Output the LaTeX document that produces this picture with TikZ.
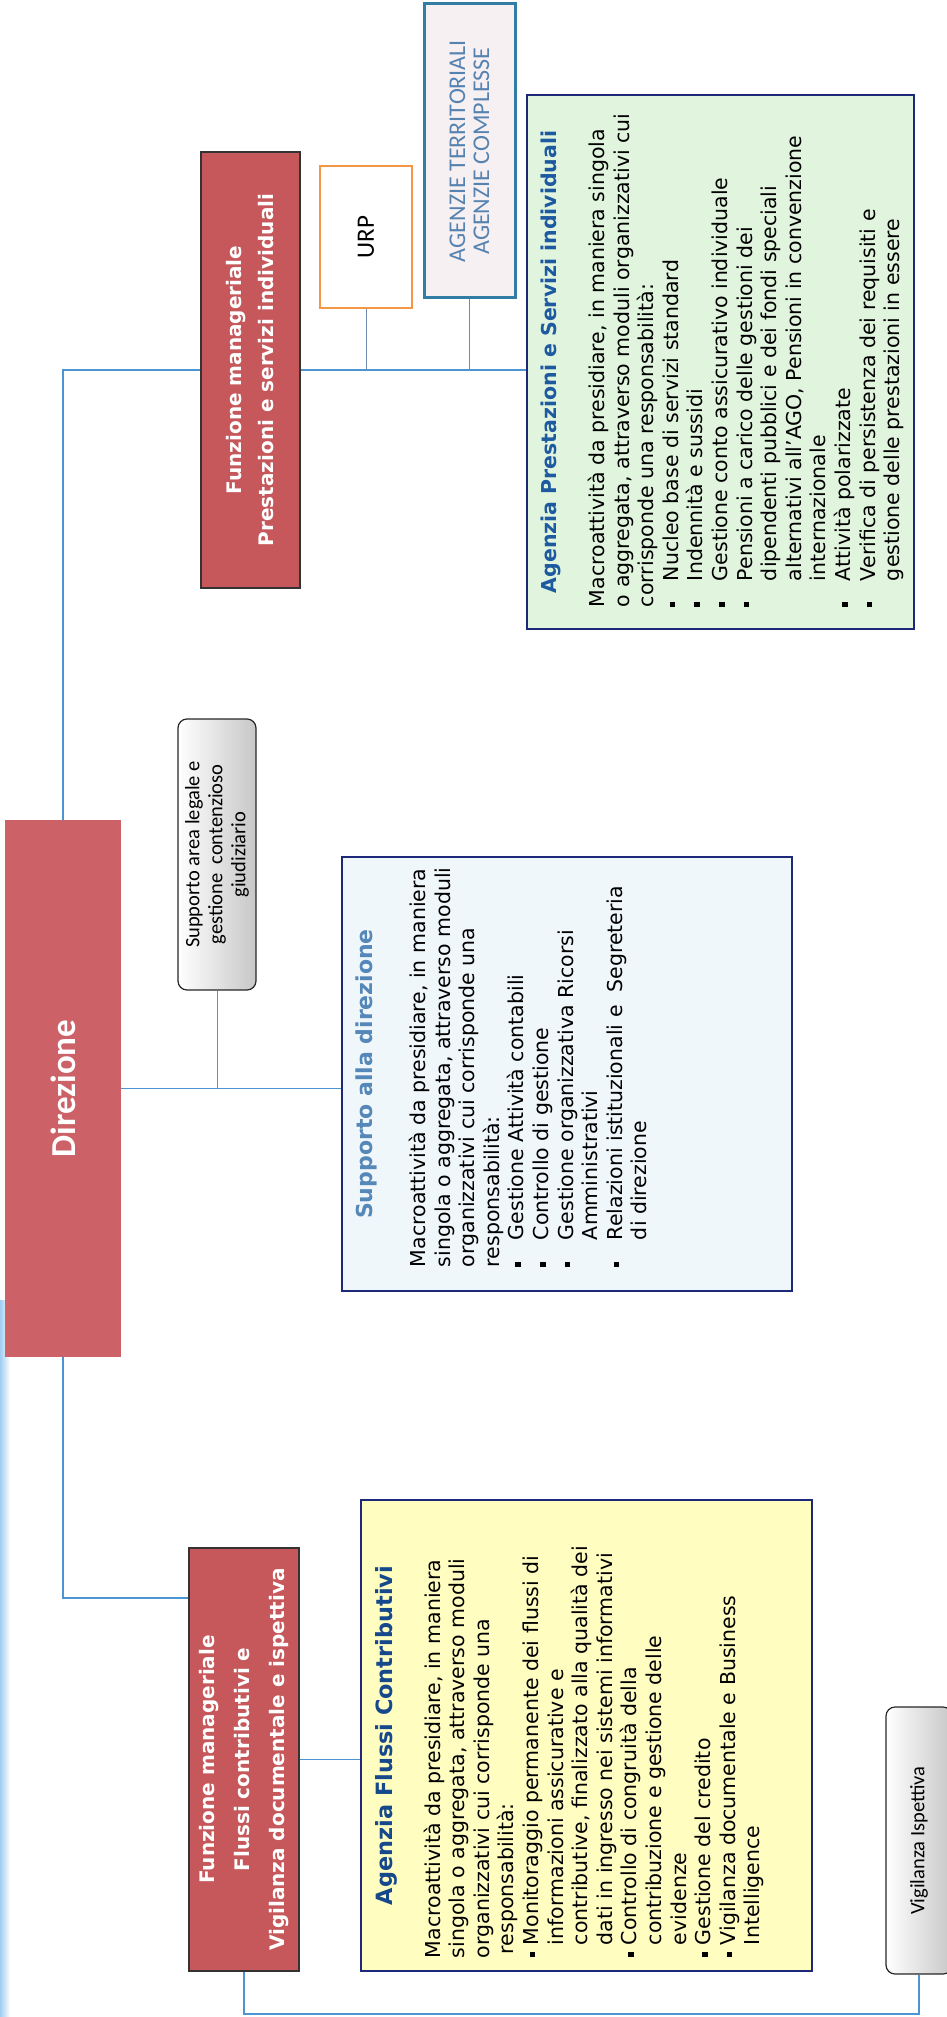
\documentclass[tikz,border=0pt]{standalone}
\usepackage{fontspec}
\setmainfont{DejaVu Sans}
\newfontfamily\calibf{Carlito}
\usetikzlibrary{calc}
\definecolor{redf}{RGB}{198,88,92}
\definecolor{redf2}{RGB}{204,98,103}
\definecolor{navyb}{RGB}{30,40,120}
\definecolor{greenf}{RGB}{225,245,222}
\definecolor{yellowf}{RGB}{255,253,192}
\definecolor{bluef}{RGB}{240,247,250}
\definecolor{headA}{RGB}{30,90,160}
\definecolor{headF}{RGB}{22,72,140}
\definecolor{headB}{RGB}{85,135,185}
\definecolor{linec}{RGB}{75,150,210}
\definecolor{linec2}{RGB}{110,140,180}
\definecolor{orangeb}{RGB}{245,150,70}
\definecolor{tealb}{RGB}{50,125,165}
\definecolor{pinkf}{RGB}{247,240,243}
\definecolor{agtext}{RGB}{85,130,175}
\definecolor{stripb}{RGB}{160,205,240}
\newlength\bodyL
\newcommand\bitem[3]{\par{\leftskip=\dimexpr\bodyL+#1\relax\noindent\llap{\makebox[#1][l]{\hspace*{#2}\rule[3pt]{5.5pt}{5.5pt}}}#3\par}}
\newcommand\boxhead[3]{\noindent\makebox[\linewidth][c]{\rule{0pt}{#1}\color{#2}\bfseries #3}\par}
\tikzset{
  redbox/.style={rotate=90, draw=black!80, line width=1.6pt, fill=redf, text=white, align=center, inner sep=0pt, font=\bfseries\fontsize{20}{32}\selectfont},
  greybox/.style={rotate=90, draw=black!85, line width=1.2pt, rounded corners=9pt, left color=white, right color=black!22, align=center, inner sep=0pt, font=\calibf\fontsize{20.5}{23}\selectfont},
  bigbox/.style={rotate=90, draw=navyb, line width=2.2pt, inner sep=0pt},
  conn/.style={draw=linec, line width=1.4pt},
  conn2/.style={draw=linec2, line width=1pt}
}
\begin{document}
\begin{tikzpicture}[x=1pt,y=-1pt]
\useasboundingbox (0,0) rectangle (946,2017);
\fill[left color=stripb, right color=white] (0,1300) rectangle (10,2017);

% red boxes
\node[rotate=90, fill=redf2, minimum width=537pt, minimum height=116pt, inner sep=0pt, text=white, font=\calibf\bfseries\fontsize{35}{40}\selectfont] (dir) at (63,1088.5) {Direzione};
\node[redbox, minimum width=436pt, minimum height=99pt] (funzP) at (250.5,370) {Funzione manageriale\\Prestazioni e servizi individuali};
\node[redbox, minimum width=423pt, minimum height=110pt, font=\bfseries\fontsize{20}{35}\selectfont] (funzF) at (244,1759.5) {Funzione manageriale\\Flussi contributivi e\\Vigilanza documentale e ispettiva};

% small boxes
\node[rotate=90, draw=orangeb, line width=2.5pt, fill=white, minimum width=142pt, minimum height=92pt, inner sep=0pt, font=\calibf\fontsize{25}{30}\selectfont] (urp) at (366,237) {URP};
\node[rotate=90, draw=tealb, line width=3pt, fill=pinkf, minimum width=294pt, minimum height=91pt, inner sep=0pt, align=center, text=agtext, font=\calibf\fontsize{24}{24}\selectfont] (agz) at (469.5,151) {AGENZIE TERRITORIALI\\AGENZIE COMPLESSE};
\node[greybox, minimum width=271pt, minimum height=78pt] (supL) at (217,854.5) {Supporto area legale e\\gestione\ \ contenzioso\\giudiziario};
\node[greybox, minimum width=267pt, minimum height=66pt] (vig) at (919,1840.5) {Vigilanza Ispettiva};

% Agenzia Prestazioni
\node[bigbox, fill=greenf] (agP) at (720.5,362) {%
\begin{minipage}[c][387pt][t]{534pt}%
\raggedright\setlength\parindent{0pt}\setlength\parskip{0pt}%
\fontsize{20.5}{24.6}\selectfont
\boxhead{29pt}{headA}{Agenzia Prestazioni e Servizi individuali}%
\vspace{23.9pt}%
\setlength\bodyL{22pt}\leftskip=\bodyL
Macroattività da presidiare, in maniera singola\\
o aggregata, attraverso moduli organizzativi cui\\
corrisponde una responsabilità:\par
\bitem{26pt}{0pt}{Nucleo base di servizi standard}%
\bitem{26pt}{0pt}{Indennità e sussidi}%
\bitem{26pt}{0pt}{Gestione conto assicurativo individuale}%
\bitem{26pt}{0pt}{Pensioni a carico delle gestioni dei\\dipendenti pubblici e dei fondi speciali\\alternativi all’AGO, Pensioni in convenzione\\internazionale}%
\bitem{26pt}{0pt}{Attività polarizzate}%
\bitem{26pt}{0pt}{Verifica di persistenza dei requisiti e\\gestione delle prestazioni in essere}%
\end{minipage}};

% Supporto alla direzione
\node[bigbox, fill=bluef] (supD) at (567,1074) {%
\begin{minipage}[c][450pt][t]{434pt}%
\raggedright\setlength\parindent{0pt}\setlength\parskip{0pt}%
\fontsize{22}{24.6}\selectfont
\boxhead{30pt}{headB}{Supporto alla direzione}%
\fontsize{20.5}{24.6}\selectfont
\vspace{28.9pt}%
\setlength\bodyL{24pt}\leftskip=\bodyL
Macroattività da presidiare, in maniera\\
singola o aggregata, attraverso moduli\\
organizzativi cui corrisponde una\\
responsabilità:\par
\bitem{27pt}{0pt}{Gestione Attività contabili}%
\bitem{27pt}{0pt}{Controllo di gestione}%
\bitem{27pt}{0pt}{Gestione organizzativa Ricorsi\\Amministrativi}%
\bitem{27pt}{0pt}{Relazioni istituzionali e\ \ Segreteria\\di direzione}%
\end{minipage}};

% Agenzia Flussi
\node[bigbox, fill=yellowf] (agF) at (586.5,1735.5) {%
\begin{minipage}[c][451pt][t]{471pt}%
\raggedright\setlength\parindent{0pt}\setlength\parskip{0pt}%
\fontsize{22.4}{24.6}\selectfont
\boxhead{31pt}{headF}{Agenzia Flussi Contributivi}%
\fontsize{20.5}{24.6}\selectfont
\vspace{23.4pt}%
\setlength\bodyL{13pt}\leftskip=\bodyL
Macroattività da presidiare, in maniera\\
singola o aggregata, attraverso moduli\\
organizzativi cui corrisponde una\\
\hspace*{4pt}responsabilità:\par
\bitem{13pt}{1pt}{Monitoraggio permanente dei flussi di\\informazioni assicurative e\\contributive, finalizzato alla qualità dei\\dati in ingresso nei sistemi informativi}%
\bitem{13pt}{1pt}{Controllo di congruità della\\contribuzione e gestione delle\\evidenze}%
\bitem{13pt}{1pt}{Gestione del credito}%
\bitem{13pt}{1pt}{Vigilanza documentale e Business\\Intelligence}%
\end{minipage}};

% connectors
\coordinate (b1) at (63,1598);
\coordinate (b2) at (0,2014);
\draw[conn] (dir.east) |- (funzP.north);
\draw[conn] (funzP.south) -- (funzP.south -| agP.north);
\draw[conn2] (urp.west) -- (urp.west |- funzP.south);
\draw[conn2] (agz.west) -- (agz.west |- funzP.south);
\draw[conn] (dir.south) -- (dir.south -| supD.north);
\draw[conn2] (supL.west) -- (supL.west |- dir.south);
\draw[conn] (dir.west) -- (b1) -- (b1 -| funzF.north);
\draw[conn] (funzF.south) -- (funzF.south -| agF.north);
\draw[conn] (funzF.west) -- (funzF.west |- b2) -- (vig.west |- b2) -- (vig.west);
\end{tikzpicture}
\end{document}
